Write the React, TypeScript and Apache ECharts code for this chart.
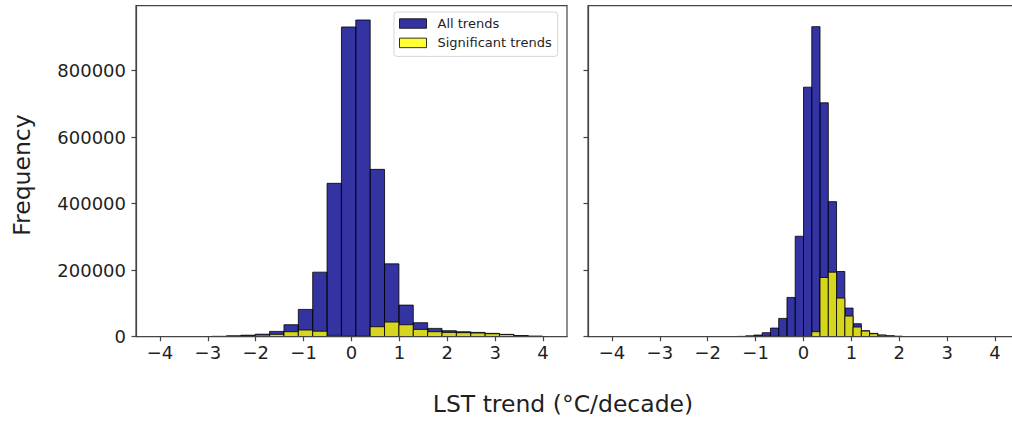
import React, { useEffect, useRef } from "react";
import * as echarts from "echarts";

// Left panel histogram (bin edges, counts)
const leftEdges = [
  -3.51, -3.21, -2.91, -2.61, -2.31, -2.01, -1.71, -1.41, -1.11, -0.81, -0.51, -0.21, 0.09,
  0.39, 0.69, 0.99, 1.29, 1.59, 1.89, 2.19, 2.49, 2.79, 3.09, 3.39, 3.69, 3.99, 4.29,
];
const leftAll = [
  300, 600, 1200, 2500, 4500, 7500, 16000, 36000, 82000, 194000, 461000, 931000, 952000,
  503000, 219000, 95000, 42000, 25000, 18000, 15000, 13000, 10000, 7000, 3500, 1500, 500,
];
const leftSig = [
  100, 200, 600, 1500, 3500, 5000, 7000, 15000, 20000, 16500, 4000, 1500, 1500, 30000,
  44000, 36000, 22000, 15000, 13000, 12000, 11000, 9000, 6500, 3000, 1200, 400,
];

// Right panel histogram
const rightEdges = [
  -1.553, -1.38, -1.208, -1.035, -0.863, -0.69, -0.518, -0.345, -0.173, 0, 0.173, 0.345,
  0.518, 0.69, 0.863, 1.035, 1.208, 1.38, 1.553, 1.725, 1.898, 2.07, 2.243, 2.415,
];
const rightAll = [
  400, 1000, 2500, 5000, 12000, 26000, 55000, 118000, 302000, 750000, 932000, 703000,
  406000, 196000, 86000, 39000, 18000, 10000, 5000, 2500, 1200, 500, 200,
];
const rightSig = [
  200, 500, 1000, 1500, 1500, 1000, 800, 500, 300, 500, 15000, 178000, 194000, 116000,
  62000, 29000, 17000, 9000, 4500, 2200, 1000, 400, 150,
];

const xTicks = [-4, -3, -2, -1, 0, 1, 2, 3, 4];
const yTicks = [0, 200000, 400000, 600000, 800000];
const seriesNames = ["All trends", "Significant trends"];

const BLUE = "rgba(0,0,139,0.8)";
const YELLOW = "rgba(255,255,0,0.8)";
const EDGE = "rgba(0,0,0,0.8)";
const AXIS = "#444";
const TEXT = "#1f1f1f";
const FONT = "DejaVu Sans";

function toBins(edges: number[], vals: number[]) {
  return vals.map((v, i) => [edges[i], edges[i + 1], v]);
}

function histSeries(name: string, edges: number[], vals: number[], idx: number, fill: string) {
  return {
    type: "custom",
    name,
    xAxisIndex: idx,
    yAxisIndex: idx,
    clip: true,
    encode: { x: [0, 1], y: 2 },
    itemStyle: { color: fill, borderColor: EDGE, borderWidth: 1 },
    data: toBins(edges, vals),
    renderItem: (params: any, api: any) => {
      const x0 = api.value(0);
      const x1 = api.value(1);
      const c = api.value(2);
      const p0 = api.coord([x0, c]);
      const p1 = api.coord([x1, 0]);
      return {
        type: "rect",
        shape: { x: p0[0], y: p0[1], width: p1[0] - p0[0], height: p1[1] - p0[1] },
        style: { fill, stroke: EDGE, lineWidth: 1 },
      };
    },
  };
}

function xAxis(idx: number) {
  return {
    type: "value",
    gridIndex: idx,
    min: -4.5,
    max: 4.5,
    z: 5,
    axisLine: { show: true, onZero: false, lineStyle: { color: AXIS, width: 1.2 } },
    axisTick: { show: true, length: 4.5, customValues: xTicks, lineStyle: { color: AXIS, width: 1.2 } },
    axisLabel: {
      show: true,
      customValues: xTicks,
      margin: 7,
      fontSize: 18,
      fontFamily: FONT,
      color: TEXT,
      formatter: (v: number) => (v < 0 ? "\u2212" + Math.abs(v) : String(v)),
    },
    splitLine: { show: false },
  };
}

function yAxis(idx: number, showLabels: boolean) {
  return {
    type: "value",
    gridIndex: idx,
    position: "left",
    min: 0,
    max: 995000,
    z: 5,
    axisLine: { show: true, onZero: false, lineStyle: { color: AXIS, width: 1.2 } },
    axisTick: { show: true, length: 4.5, customValues: yTicks, lineStyle: { color: AXIS, width: 1.2 } },
    axisLabel: {
      show: showLabels,
      customValues: yTicks,
      margin: 10,
      fontSize: 18,
      fontFamily: FONT,
      color: TEXT,
      formatter: (v: number) => String(v),
    },
    splitLine: { show: false },
  };
}

export default function App() {
  const ref = useRef<HTMLDivElement>(null);
  useEffect(() => {
    if (!ref.current) return;
    const chart = echarts.init(ref.current, null, { renderer: "svg" });
    chart.setOption({
      animation: false,
      backgroundColor: "#fff",
      textStyle: { fontFamily: FONT },
      grid: [
        { left: 136, top: 5.7, width: 431, height: 331, show: true, borderColor: AXIS, borderWidth: 1.2 },
        { left: 588, top: 5.7, width: 431, height: 331, show: true, borderColor: AXIS, borderWidth: 1.2 },
      ],
      xAxis: [xAxis(0), xAxis(1)],
      yAxis: [yAxis(0, true), yAxis(1, false)],
      legend: {
        orient: "vertical",
        left: 394,
        top: 12,
        padding: [5, 6, 7, 5],
        itemGap: 6.4,
        itemWidth: 27,
        itemHeight: 9.5,
        backgroundColor: "rgba(255,255,255,0.8)",
        borderColor: "#d6d6d6",
        borderWidth: 1,
        borderRadius: 3,
        textStyle: { fontSize: 13, fontFamily: FONT, color: TEXT, padding: [0, 0, 0, 6] },
        data: [
          { name: seriesNames[0], icon: "rect", itemStyle: { color: BLUE, borderColor: EDGE, borderWidth: 1 } },
          { name: seriesNames[1], icon: "rect", itemStyle: { color: YELLOW, borderColor: EDGE, borderWidth: 1 } },
        ],
      },
      graphic: [
        {
          type: "text",
          x: 22,
          y: 175,
          rotation: Math.PI / 2,
          style: {
            text: "Frequency",
            fontSize: 23.5,
            fontFamily: FONT,
            fill: TEXT,
            align: "center",
            verticalAlign: "middle",
          },
        },
        {
          type: "text",
          x: 563,
          y: 404,
          style: {
            text: "LST trend (°C/decade)",
            fontSize: 23.5,
            fontFamily: FONT,
            fill: TEXT,
            align: "center",
            verticalAlign: "middle",
          },
        },
      ],
      series: [
        histSeries(seriesNames[0], leftEdges, leftAll, 0, BLUE),
        histSeries(seriesNames[1], leftEdges, leftSig, 0, YELLOW),
        histSeries(seriesNames[0], rightEdges, rightAll, 1, BLUE),
        histSeries(seriesNames[1], rightEdges, rightSig, 1, YELLOW),
      ],
    });
    return () => chart.dispose();
  }, []);
  return (
    <div
      style={{
        position: "fixed",
        left: 0,
        top: 0,
        width: 1012,
        height: 423,
        overflow: "hidden",
        background: "#fff",
      }}
    >
      <div ref={ref} style={{ width: 1030, height: 423 }} />
    </div>
  );
}
